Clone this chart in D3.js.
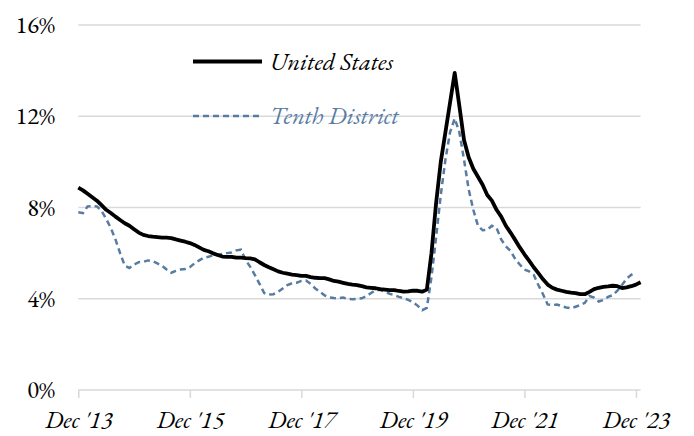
<!DOCTYPE html>
<html>
<head>
<meta charset="utf-8">
<script src="https://cdn.jsdelivr.net/npm/d3@7"></script>
<style>
  body { margin: 0; background: #fff; }
</style>
</head>
<body>
<div id="chart"></div>
<script>
// monthly, starting Dec 2013
var usValues = [
  8.87, 8.75, 8.6, 8.45, 8.3, 8.1, 7.9, 7.76, 7.6, 7.45, 7.31, 7.2,
  7.05, 6.9, 6.8, 6.75, 6.72, 6.7, 6.68, 6.68, 6.66, 6.6, 6.55, 6.5,
  6.44, 6.36, 6.25, 6.14, 6.08, 5.99, 5.92, 5.85, 5.84, 5.84, 5.8, 5.8,
  5.78, 5.77, 5.73, 5.6, 5.48, 5.38, 5.29, 5.2, 5.14, 5.1, 5.06, 5.04,
  5.0, 5.0, 4.95, 4.92, 4.9, 4.9, 4.85, 4.78, 4.75, 4.7, 4.65, 4.62,
  4.6, 4.55, 4.5, 4.48, 4.46, 4.42, 4.4, 4.38, 4.38, 4.34, 4.31, 4.32,
  4.36, 4.35, 4.31, 4.4, 6.0, 8.2, 10.0, 11.3, 12.6, 13.9, 12.45, 10.96,
  10.2, 9.7, 9.35, 9.0, 8.55, 8.3, 7.9, 7.6, 7.2, 6.9, 6.58, 6.25,
  5.95, 5.67, 5.38, 5.12, 4.85, 4.62, 4.48, 4.4, 4.35, 4.3, 4.27, 4.25,
  4.2, 4.2, 4.3, 4.42, 4.48, 4.52, 4.54, 4.57, 4.55, 4.47, 4.5, 4.55,
  4.62, 4.72
];
var tenthValues = [
  7.79, 7.75, 8.05, 8.06, 8.05, 7.85, 7.5, 7.1, 6.6, 6.0, 5.45, 5.35,
  5.5, 5.6, 5.62, 5.68, 5.65, 5.55, 5.45, 5.28, 5.14, 5.22, 5.28, 5.3,
  5.38, 5.55, 5.68, 5.8, 5.84, 5.9, 5.92, 5.96, 6.0, 6.03, 6.12, 6.15,
  5.7, 5.4, 5.04, 4.65, 4.25, 4.18, 4.2, 4.3, 4.45, 4.6, 4.68, 4.7,
  4.78, 4.8, 4.65, 4.45, 4.3, 4.15, 4.06, 4.03, 4.02, 4.05, 3.99, 3.98,
  4.0, 4.02, 4.12, 4.25, 4.38, 4.38, 4.3, 4.22, 4.16, 4.08, 4.02, 3.95,
  3.85, 3.7, 3.5, 3.6, 4.95, 6.7, 8.55, 10.1, 11.3, 11.9, 11.3, 10.1,
  8.8, 7.9, 7.2, 7.0, 7.02, 7.2, 7.1, 6.6, 6.3, 6.1, 5.75, 5.5,
  5.28, 5.2, 5.05, 4.6, 4.2, 3.75, 3.72, 3.75, 3.68, 3.62, 3.58, 3.65,
  3.72, 3.82, 4.12, 4.05, 3.88, 3.95, 4.08, 4.16, 4.35, 4.6, 4.88, 5.05,
  5.15
];
var xTickMonths = [0, 24, 48, 72, 96, 120];
var xTickLabels = ["Dec '13", "Dec '15", "Dec '17", "Dec '19", "Dec '21", "Dec '23"];
var yTicks = [0, 4, 8, 12, 16];
var seriesNames = ["United States", "Tenth District"];

var width = 694, height = 436;
var blue = "#577ca2", grid = "#d9d9d9";
var serif = "'EB Garamond'";
var fontSize = "24.5px";

var svg = d3.select("#chart").append("svg")
  .attr("width", width)
  .attr("height", height);

var x = d3.scaleLinear().domain([0, 121]).range([78.3, 640.6]);
var y = d3.scaleLinear().domain([0, 16]).range([390, 25]);

// gridlines
svg.append("g")
  .selectAll("line")
  .data(yTicks.filter(function(d) { return d > 0; }))
  .join("line")
    .attr("x1", x(0)).attr("x2", x(121))
    .attr("y1", function(d) { return y(d); })
    .attr("y2", function(d) { return y(d); })
    .attr("stroke", grid)
    .attr("stroke-width", 1.5);

// y labels
svg.append("g")
  .selectAll("text")
  .data(yTicks)
  .join("text")
    .attr("x", 55)
    .attr("y", function(d) { return y(d); })
    .attr("dy", "0.33em")
    .attr("text-anchor", "end")
    .style("font-family", serif)
    .style("font-size", fontSize)
    .attr("fill", "#000")
    .text(function(d) { return d + "%"; });

// x axis
var xAxis = d3.axisBottom(x)
  .tickValues(xTickMonths)
  .tickSize(8)
  .tickFormat(function(d, i) { return xTickLabels[i]; });

var gx = svg.append("g")
  .attr("transform", "translate(0," + y(0) + ")")
  .call(xAxis);
gx.attr("font-family", null).attr("font-size", null);
gx.select(".domain")
  .attr("d", "M" + x(0) + ",0H" + x(121))
  .attr("stroke", grid)
  .attr("stroke-width", 1.5);
gx.selectAll(".tick line")
  .attr("stroke", grid)
  .attr("stroke-width", 1.5);
gx.selectAll(".tick text")
  .attr("y", 30)
  .attr("dy", "0.33em")
  .style("font-family", serif)
  .style("font-style", "italic")
  .style("font-size", fontSize)
  .attr("fill", "#000");

var line = d3.line()
  .x(function(d, i) { return x(i); })
  .y(function(d) { return y(d); });

svg.append("path")
  .datum(tenthValues)
  .attr("fill", "none")
  .attr("stroke", blue)
  .attr("stroke-width", 2.5)
  .attr("stroke-dasharray", "6,4")
  .attr("d", line);

svg.append("path")
  .datum(usValues)
  .attr("fill", "none")
  .attr("stroke", "#000")
  .attr("stroke-width", 3.8)
  .attr("stroke-linejoin", "round")
  .attr("d", line);

// legend
var legend = svg.append("g");
var legendRows = [
  {name: seriesNames[0], y: 61.5, color: "#000", width: 4, dash: null},
  {name: seriesNames[1], y: 116, color: blue, width: 2.5, dash: "6,4"}
];
legendRows.forEach(function(r) {
  legend.append("line")
    .attr("x1", 193).attr("x2", 262)
    .attr("y1", r.y).attr("y2", r.y)
    .attr("stroke", r.color)
    .attr("stroke-width", r.width)
    .attr("stroke-dasharray", r.dash);
  legend.append("text")
    .attr("x", 270)
    .attr("y", r.y)
    .attr("dy", "0.33em")
    .style("font-family", serif)
    .style("font-style", "italic")
    .style("font-size", fontSize)
    .attr("fill", r.color)
    .text(r.name);
});
</script>
</body>
</html>
